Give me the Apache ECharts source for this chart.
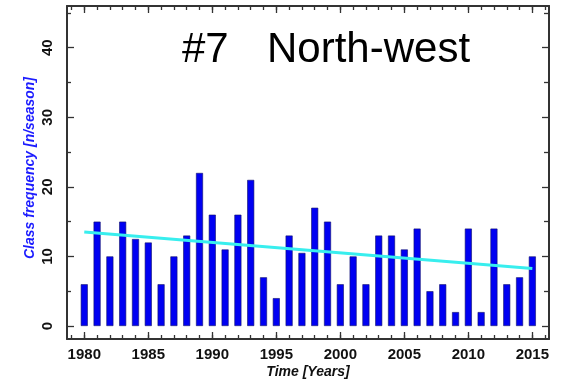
<!DOCTYPE html>
<html>
<head>
<meta charset="utf-8">
<script src="https://cdn.jsdelivr.net/npm/echarts@6/dist/echarts.min.js"></script>
<style>
  html, body { margin: 0; padding: 0; background: #fff; }
  #chart { width: 561px; height: 381px; }
</style>
</head>
<body>
<div id="chart"></div>
<script>
// Seasonal counts of circulation class #7 (North-west), 1980-2015
const years = [1980, 1981, 1982, 1983, 1984, 1985, 1986, 1987, 1988, 1989,
               1990, 1991, 1992, 1993, 1994, 1995, 1996, 1997, 1998, 1999,
               2000, 2001, 2002, 2003, 2004, 2005, 2006, 2007, 2008, 2009,
               2010, 2011, 2012, 2013, 2014, 2015];
const frequency = [6, 15, 10, 15, 12.5, 12, 6, 10, 13, 22,
                   16, 11, 16, 21, 7, 4, 13, 10.5, 17, 15,
                   6, 10, 6, 13, 13, 11, 14, 5, 6, 2,
                   14, 2, 14, 6, 7, 10];
// Linear trend, start and end of the period
const trendYears = [1980, 2015];
const trendValues = [13.5, 8.25];

// Axis ticks
const xMajorTicks = [1980, 1985, 1990, 1995, 2000, 2005, 2010, 2015];
const xMinorTicks = [1979, 1980, 1981, 1982, 1983, 1984, 1985, 1986, 1987, 1988, 1989,
                     1990, 1991, 1992, 1993, 1994, 1995, 1996, 1997, 1998, 1999,
                     2000, 2001, 2002, 2003, 2004, 2005, 2006, 2007, 2008, 2009,
                     2010, 2011, 2012, 2013, 2014, 2015, 2016];
const yMajorTicks = [0, 10, 20, 30, 40];
const yMinorTicks = [5, 15, 25, 35, 45];

const xRange = [1978.65, 2016.3];
const yRange = [-1.87, 46];

const frameColor = '#333';
const labelFont = { fontFamily: 'Liberation Sans, Arial, sans-serif', fontWeight: 'bold', fontSize: 15, color: '#111' };
const plain = v => String(v);

function xAxisDef(position, ticks, len, withLine, withLabels) {
  return {
    type: 'value', position, min: xRange[0], max: xRange[1],
    axisLine: { show: withLine, onZero: false, lineStyle: { color: frameColor, width: 2 } },
    axisTick: { show: true, inside: true, length: len, customValues: ticks,
                lineStyle: { color: frameColor, width: 1.3 } },
    axisLabel: Object.assign({ show: withLabels, margin: 8, customValues: ticks, formatter: plain }, labelFont),
    splitLine: { show: false }
  };
}
function yAxisDef(position, ticks, len, withLine, withLabels) {
  return {
    type: 'value', position, min: yRange[0], max: yRange[1],
    axisLine: { show: withLine, onZero: false, lineStyle: { color: frameColor, width: 2 } },
    axisTick: { show: true, inside: true, length: len, customValues: ticks,
                lineStyle: { color: frameColor, width: 1.3 } },
    axisLabel: Object.assign({ show: withLabels, margin: 12, rotate: 90, customValues: ticks, formatter: plain }, labelFont),
    splitLine: { show: false }
  };
}

const chart = echarts.init(document.getElementById('chart'), null, { renderer: 'canvas' });

chart.setOption({
  backgroundColor: '#fff',
  animation: false,
  grid: { left: 67, top: 6, right: 12, bottom: 42, containLabel: false },
  xAxis: [
    xAxisDef('bottom', xMajorTicks, 7, true, true),
    xAxisDef('bottom', xMinorTicks, 4, false, false),
    xAxisDef('top', xMajorTicks, 7, true, false),
    xAxisDef('top', xMinorTicks, 4, false, false)
  ],
  yAxis: [
    yAxisDef('left', yMajorTicks, 7, true, true),
    yAxisDef('left', yMinorTicks, 4, false, false),
    yAxisDef('right', yMajorTicks, 7, true, false),
    yAxisDef('right', yMinorTicks, 5, false, false)
  ],
  series: [
    {
      type: 'bar',
      xAxisIndex: 0, yAxisIndex: 0,
      barWidth: 7,
      itemStyle: { color: '#0000f2', borderColor: '#10106a', borderWidth: 0.6 },
      data: years.map((y, i) => [y, frequency[i]])
    },
    {
      type: 'line',
      xAxisIndex: 0, yAxisIndex: 0,
      symbol: 'none',
      lineStyle: { color: '#38eeee', width: 3 },
      data: trendYears.map((y, i) => [y, trendValues[i]]),
      z: 5
    }
  ],
  graphic: [
    { type: 'text', x: 182, y: 50,
      style: { text: '#7', fontFamily: 'Liberation Sans, Arial, sans-serif', fontSize: 42,
               fill: '#000', textAlign: 'left', textVerticalAlign: 'middle' } },
    { type: 'text', x: 267, y: 50,
      style: { text: 'North-west', fontFamily: 'Liberation Sans, Arial, sans-serif', fontSize: 42,
               fill: '#000', textAlign: 'left', textVerticalAlign: 'middle' } },
    { type: 'text', x: 308, y: 372,
      style: { text: 'Time [Years]', fontFamily: 'Liberation Sans, Arial, sans-serif', fontSize: 14,
               fontWeight: 'bold', fontStyle: 'italic', fill: '#111',
               textAlign: 'center', textVerticalAlign: 'middle' } },
    { type: 'text', x: 30, y: 168, rotation: Math.PI / 2,
      style: { text: 'Class frequency [n/season]', fontFamily: 'Liberation Sans, Arial, sans-serif', fontSize: 14,
               fontWeight: 'bold', fontStyle: 'italic', fill: '#1c1cff',
               textAlign: 'center', textVerticalAlign: 'middle' } }
  ]
});
</script>
</body>
</html>
